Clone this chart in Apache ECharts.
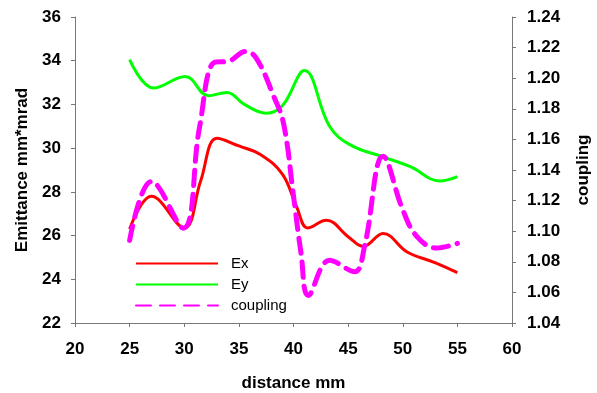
<!DOCTYPE html>
<html><head><meta charset="utf-8">
<script src="https://cdn.jsdelivr.net/npm/echarts@6/dist/echarts.min.js"></script>
<style>html,body{margin:0;padding:0;background:#fff}#c{width:597px;height:393px}</style>
</head><body><div id="c"></div>
<script>
const exData = [[25,26.3],[27,27.8],[30,26.35],[31.5,28.5],[33,30.45],[35,30.1],[37,29.7],[39,28.8],[40.3,27.3],[41.3,26.35],[43,26.7],[45,25.95],[46.4,25.5],[48.2,26.1],[50.4,25.25],[53,24.75],[55,24.3]];
const eyData = [[25,34.05],[27.2,32.75],[30.1,33.28],[32.2,32.4],[33.9,32.55],[35.5,32.0],[37.5,31.6],[39,31.95],[41,33.55],[43.3,31.0],[45.2,30.15],[48.2,29.6],[50.7,29.15],[53.4,28.5],[55,28.7]];
const couplingData = [[25,1.094],[27,1.1325],[29.9,1.102],[31.4,1.168],[32.8,1.2105],[34,1.211],[35.6,1.2175],[36.6,1.213],[38.2,1.188],[39.1,1.17],[40,1.123],[40.7,1.085],[41.35,1.058],[43.3,1.081],[45.6,1.0735],[46.5,1.09],[48.2,1.149],[50,1.114],[51.3,1.0965],[53.1,1.089],[55,1.092]];
const seriesNames = ['Ex','Ey','coupling'];

const FONT = 'Liberation Sans';
const axisLine = {show:true, lineStyle:{color:'#777', width:1}};
const axisTick = {show:true, length:4, lineStyle:{color:'#777'}};
const lbl = {color:'#000', fontFamily:FONT, fontWeight:'bold', fontSize:17};
const chart = echarts.init(document.getElementById('c'));
chart.setOption({
  animation:false,
  backgroundColor:'#fff',
  grid:{left:75, right:85, top:17, bottom:70, containLabel:false, outerBoundsMode:'none'},
  legend:{
    orient:'vertical', left:130, top:251, itemWidth:82, itemHeight:10, itemGap:6,
    data:seriesNames,
    itemStyle:{opacity:0},
    textStyle:{fontFamily:FONT, fontSize:15, color:'#000', padding:[0,0,0,8]}
  },
  xAxis:{type:'value', min:20, max:60, interval:5,
    name:'distance mm', nameLocation:'middle', nameGap:52,
    nameTextStyle:{fontFamily:FONT, fontWeight:'bold', fontSize:17, color:'#000'},
    axisLine, axisTick, splitLine:{show:false}, axisLabel:Object.assign({margin:18}, lbl)},
  yAxis:[
    {type:'value', min:22, max:36, interval:2, position:'left',
     name:'Emittance mm*mrad', nameLocation:'middle', nameGap:41,
     nameTextStyle:{fontFamily:FONT, fontWeight:'bold', fontSize:17, color:'#000'},
     axisLine, axisTick, splitLine:{show:false}, axisLabel:Object.assign({margin:14}, lbl)},
    {type:'value', min:1.04, max:1.24, interval:0.02, position:'right',
     name:'coupling', nameLocation:'middle', nameGap:63, nameRotate:90,
     nameTextStyle:{fontFamily:FONT, fontWeight:'bold', fontSize:17, color:'#000'},
     axisLine, axisTick, splitLine:{show:false},
     axisLabel:Object.assign({margin:15, formatter:v=>v.toFixed(2)}, lbl)}
  ],
  series:[
    {name:seriesNames[0], type:'line', yAxisIndex:0, data:exData, smooth:0.4, showSymbol:false, symbol:'none',
     lineStyle:{color:'#ff0000', width:3}, itemStyle:{color:'#ff0000'}, z:3},
    {name:seriesNames[1], type:'line', yAxisIndex:0, data:eyData, smooth:0.4, showSymbol:false, symbol:'none',
     lineStyle:{color:'#00ff00', width:3}, itemStyle:{color:'#00ff00'}, z:2},
    {name:seriesNames[2], type:'line', yAxisIndex:1, data:couplingData, smooth:0.4, showSymbol:false, symbol:'none',
     lineStyle:{color:'#ff00ff', width:5, type:[15,9], cap:'round'}, itemStyle:{color:'#ff00ff'}, z:4}
  ]
});
</script></body></html>
